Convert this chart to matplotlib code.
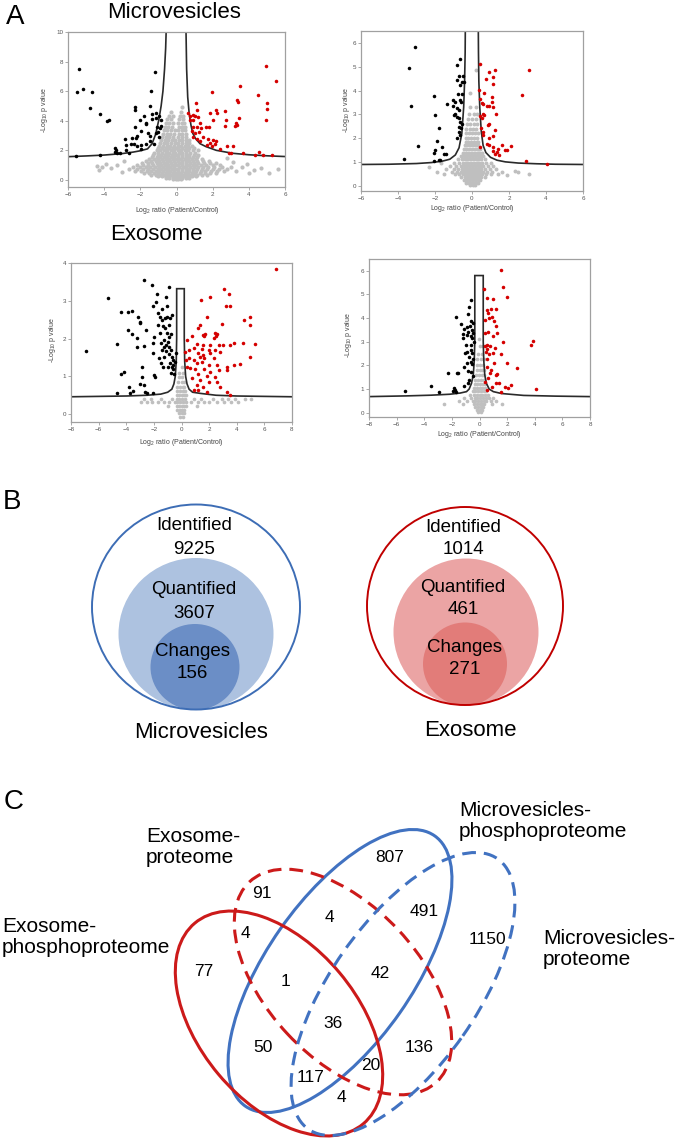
import matplotlib
matplotlib.use('Agg')
import matplotlib.pyplot as plt
from matplotlib.patches import Ellipse

plt.rcParams['font.family'] = ['Liberation Sans', 'DejaVu Sans']
plt.rcParams['mathtext.default'] = 'regular'

# ---------------- DATA ----------------
# Panel A, top-left (Microvesicles, proteome)
tl_black_x = [-5.41, -5.5, -5.17, -4.69, -4.8, -4.21, -3.87, -3.73, -3.41, -3.32, -3.27, -3.41, -3.1, -5.57,
              -2.86, -2.8, -2.62, -2.44, -2.31, -2.36, -2.31, -2.27, -2.21, -2.18, -2.03, -1.97, -1.94, -1.94,
              -1.81, -1.7, -1.66, -1.57, -1.66, -1.42, -1.48, -1.38, -1.44, -1.48, -1.33, -1.2, -1.14, -1.11,
              -1.07, -1.01, -0.96, -0.92, -0.96, -1.11, -0.87, -0.83, -1.25, -2.77, -2.49, -2.25, -4.24]
tl_black_y = [7.52, 5.91, 6.14, 5.91, 4.85, 4.45, 3.95, 4.02, 2.14, 2.03, 1.85, 1.92, 1.8, 1.63,
              2.75, 2.37, 1.81, 2.82, 3.61, 2.44, 4.74, 4.9, 2.98, 2.26, 4.06, 3.32, 2.37, 2.08,
              4.33, 3.79, 3.88, 3.16, 2.44, 5.98, 4.97, 4.11, 2.98, 2.6, 4.47, 7.27, 4.51, 4.18,
              3.61, 3.27, 4.29, 3.5, 2.93, 3.16, 4.06, 3.66, 2.44, 2.03, 2.44, 2.82, 1.69]
tl_red_x = [4.94, 5.5, 4.98, 5.02, 4.94, 4.52, 3.51, 3.32, 3.41, 3.47, 3.28, 3.36, 3.23, 2.68, 2.73, 2.68,
            1.94, 2.18, 2.25, 2.03, 1.85, 1.81, 1.07, 1.11, 1.01, 0.89, 0.77, 0.92, 1.2, 1.29, 1.11, 1.38,
            1.25, 1.01, 0.89, 0.83, 0.92, 1.11, 1.29, 1.48, 1.62, 1.75, 1.85, 2.03, 2.12, 2.21, 1.66, 1.94,
            2.4, 2.77, 3.14, 2.99, 2.92, 3.69, 4.33, 4.57, 4.8, 5.26, 0.65, 0.74]
tl_red_y = [7.67, 6.68, 5.19, 4.81, 4.06, 5.76, 6.37, 5.42, 5.26, 4.18, 3.84, 3.72, 3.66, 4.63, 4.02, 3.66,
            5.91, 4.74, 4.51, 4.06, 4.51, 3.61, 5.19, 4.74, 4.29, 4.4, 4.29, 4.06, 4.24, 3.88, 3.61, 3.5,
            3.21, 3.16, 3.61, 3.34, 2.89, 2.75, 2.6, 2.93, 3.61, 2.75, 2.48, 2.71, 2.44, 2.6, 2.37, 2.26,
            2.08, 2.26, 2.26, 1.85, 1.81, 1.81, 1.69, 1.87, 1.69, 1.69, 4.51, 4.02]
tl_gray_rows = [
    (0.03, [-0.2, -0.05, 0.1, 0.25]),
    (0.13, [-0.6, -0.4, -0.2, -0.05, 0.1, 0.3, 0.5, 0.7]),
    (0.24, [-1.0, -0.8, -0.6, -0.4, -0.2, -0.06, 0.08, 0.25, 0.45, 0.65, 0.85, 1.1]),
    (0.35, [-1.4, -1.15, -0.9, -0.7, -0.5, -0.3, -0.12, 0.1, 0.3, 0.5, 0.7, 0.9, 1.15, 1.4, 1.7]),
    (0.47, [-1.8, -1.5, -1.25, -1.0, -0.8, -0.6, -0.4, -0.2, -0.07, 0.08, 0.25, 0.45, 0.65, 0.85, 1.05, 1.3,
            1.55, 1.85, 2.2]),
    (0.6, [-2.3, -1.95, -1.65, -1.4, -1.15, -0.95, -0.75, -0.55, -0.35, -0.15, 0.1, 0.3, 0.5, 0.7, 0.9, 1.1,
           1.35, 1.6, 1.9, 2.25, 2.6]),
    (0.73, [-2.6, -2.2, -1.85, -1.55, -1.3, -1.05, -0.85, -0.65, -0.45, -0.25, -0.08, 0.1, 0.3, 0.5, 0.7, 0.9,
            1.15, 1.4, 1.7, 2.0, 2.35, 2.8]),
    (0.86, [-2.4, -2.0, -1.7, -1.45, -1.2, -0.95, -0.75, -0.55, -0.35, -0.15, 0.12, 0.35, 0.55, 0.75, 0.95,
            1.2, 1.45, 1.75, 2.1, 2.5, 3.0]),
    (0.99, [-2.2, -1.85, -1.55, -1.3, -1.05, -0.85, -0.65, -0.45, -0.25, -0.08, 0.1, 0.3, 0.5, 0.7, 0.9, 1.1,
            1.35, 1.65, 2.0, 2.4]),
    (1.12, [-1.9, -1.6, -1.35, -1.1, -0.9, -0.7, -0.5, -0.3, -0.1, 0.12, 0.32, 0.52, 0.72, 0.95, 1.2, 1.5,
            1.85, 2.2]),
    (1.26, [-1.7, -1.4, -1.15, -0.95, -0.75, -0.55, -0.35, -0.15, 0.1, 0.3, 0.5, 0.7, 0.9, 1.15, 1.45, 1.8]),
    (1.4, [-1.5, -1.25, -1.0, -0.8, -0.6, -0.4, -0.2, -0.06, 0.08, 0.25, 0.45, 0.65, 0.85, 1.1, 1.4]),
    (1.55, [-1.35, -1.1, -0.9, -0.7, -0.5, -0.3, -0.12, 0.1, 0.3, 0.5, 0.7, 0.9, 1.15]),
    (1.7, [-1.3, -1.05, -0.85, -0.65, -0.45, -0.25, -0.08, 0.1, 0.3, 0.5, 0.7, 0.95, 1.2]),
    (1.85, [-1.25, -1.0, -0.8, -0.6, -0.4, -0.2, -0.06, 0.12, 0.32, 0.52, 0.75, 1.0]),
    (2.0, [-1.1, -0.9, -0.7, -0.5, -0.3, -0.12, 0.08, 0.25, 0.45, 0.65, 0.9, 1.2]),
    (2.15, [-1.0, -0.8, -0.6, -0.4, -0.2, -0.06, 0.1, 0.3, 0.5, 0.7, 0.95]),
    (2.3, [-0.95, -0.75, -0.55, -0.35, -0.15, 0.08, 0.25, 0.45, 0.65, 0.85]),
    (2.5, [-0.9, -0.7, -0.5, -0.3, -0.1, 0.1, 0.3, 0.5, 0.7]),
    (2.7, [-0.85, -0.65, -0.45, -0.25, -0.08, 0.12, 0.32, 0.52, 0.7]),
    (2.9, [-0.8, -0.6, -0.4, -0.2, 0.1, 0.3, 0.5]),
    (3.1, [-0.75, -0.55, -0.35, -0.15, 0.12, 0.3, 0.5]),
    (3.35, [-0.7, -0.5, -0.3, -0.1, 0.1, 0.3, 0.45]),
    (3.6, [-0.65, -0.45, -0.25, 0.12, 0.3, 0.45]),
    (3.85, [-0.6, -0.4, -0.2, 0.1, 0.28, 0.42]),
    (4.1, [-0.5, -0.3, 0.15, 0.35]),
    (4.35, [-0.4, -0.2, 0.2, 0.35]),
    (4.6, [-0.3, 0.25]),
    (4.9, [0.3]),
]
tl_gray_out_x = [-4.4, -3.9, -3.3, -3.6, -4.3, -3.0, -2.9, -4.1, 3.3, 3.6, 4.0, 4.3, 4.7, 5.6, 5.1, 3.1, 2.8, 3.9]
tl_gray_out_y = [0.95, 1.05, 1.0, 0.8, 0.7, 0.55, 1.3, 0.85, 0.6, 0.9, 0.5, 0.7, 0.8, 0.75, 0.5, 1.2, 1.45, 1.05]
tl_curve_lx = [-6.0, -5.0, -4.0, -3.0, -2.4, -2.0, -1.6, -1.35, -1.15, -0.98, -0.85, -0.75, -0.66, -0.6, -0.56]
tl_curve_ly = [1.57, 1.62, 1.68, 1.78, 1.88, 1.97, 2.1, 2.45, 3.1, 4.05, 5.0, 6.0, 7.5, 8.9, 10.5]
tl_curve_rx = [0.52, 0.56, 0.62, 0.7, 0.8, 0.9, 1.05, 1.3, 1.63, 2.2, 3.1, 4.0, 5.0, 6.0]
tl_curve_ry = [10.5, 7.5, 5.6, 4.5, 3.7, 3.15, 2.8, 2.45, 2.25, 2.0, 1.8, 1.7, 1.63, 1.58]

# Panel A, top-right (Microvesicles, phosphoproteome)
tr_black_x = [-3.09, -3.43, -3.3, -3.66, -2.94, -2.03, -1.99, -1.8, -1.87, -1.99, -2.05, -1.63, -1.72, -2.03,
              -1.76, -1.54, -1.4, -1.36, -0.65, -0.83, -0.79, -0.68, -0.47, -0.52, -0.43, -0.65, -0.74, -0.56,
              -1.04, -0.92, -0.65, -0.61, -1.01, -0.83, -0.72, -0.9, -0.97, -0.83, -0.68, -0.65, -0.68, -0.61,
              -0.72, -0.65, -0.79, -0.56]
tr_black_y = [5.83, 4.94, 3.34, 1.15, 1.68, 3.76, 2.99, 2.42, 1.87, 1.5, 1.38, 1.64, 1.1, 1.05,
              1.08, 1.36, 1.36, 3.43, 5.31, 5.06, 4.46, 4.6, 4.63, 4.36, 4.36, 4.22, 3.87, 3.87,
              3.59, 3.51, 3.59, 3.52, 3.34, 3.29, 3.17, 3.03, 2.97, 2.9, 2.83, 2.69, 2.48, 2.41,
              2.27, 2.13, 1.99, 2.59]
tr_red_x = [0.43, 0.93, 1.24, 1.15, 1.15, 0.74, 3.09, 2.69, 0.39, 0.65, 1.06, 0.43, 0.52, 0.61, 1.06, 0.79,
            0.92, 1.15, 1.29, 0.57, 0.43, 0.52, 0.65, 0.93, 0.88, 1.24, 0.47, 0.61, 0.57, 1.15, 0.93, 0.43,
            0.93, 1.11, 1.26, 1.33, 1.42, 1.45, 1.6, 1.81, 1.87, 2.1, 1.11, 2.91, 4.06, 0.79]
tr_red_y = [5.13, 4.76, 4.88, 4.55, 4.29, 4.48, 4.87, 3.82, 4.01, 3.9, 3.73, 3.66, 3.48, 3.45, 3.52, 3.34,
            3.34, 3.31, 3.01, 3.03, 2.92, 2.83, 2.97, 2.59, 2.55, 2.36, 2.41, 2.27, 2.13, 2.08, 2.03, 1.64,
            1.71, 1.64, 1.36, 1.43, 1.57, 1.29, 1.71, 1.5, 1.5, 1.68, 1.47, 1.05, 0.94, 1.78]
tr_gray_rows = [
    (0.02, [-0.1, 0.05, 0.15]),
    (0.12, [-0.3, -0.15, 0.0, 0.15, 0.3]),
    (0.24, [-0.45, -0.3, -0.15, 0.0, 0.15, 0.3, 0.45]),
    (0.36, [-0.6, -0.4, -0.25, -0.1, 0.05, 0.2, 0.35, 0.5, 0.7]),
    (0.48, [-1.5, -0.9, -0.7, -0.5, -0.35, -0.2, -0.05, 0.1, 0.25, 0.4, 0.55, 0.75, 1.0, 1.4]),
    (0.6, [-1.9, -1.1, -0.8, -0.6, -0.45, -0.3, -0.15, 0.0, 0.15, 0.3, 0.45, 0.6, 0.8, 1.1, 1.6, 2.5]),
    (0.72, [-1.4, -1.0, -0.75, -0.55, -0.4, -0.25, -0.1, 0.05, 0.2, 0.35, 0.5, 0.7, 0.95, 1.3]),
    (0.85, [-1.2, -0.85, -0.6, -0.45, -0.3, -0.15, 0.0, 0.15, 0.3, 0.45, 0.6, 0.85, 1.15]),
    (0.98, [-1.0, -0.7, -0.5, -0.35, -0.2, -0.05, 0.1, 0.25, 0.4, 0.55, 0.75, 1.0]),
    (1.12, [-0.75, -0.55, -0.4, -0.25, -0.1, 0.05, 0.2, 0.35, 0.5, 0.7]),
    (1.26, [-0.6, -0.45, -0.3, -0.15, 0.0, 0.15, 0.3, 0.45, 0.6]),
    (1.4, [-0.5, -0.35, -0.2, -0.05, 0.1, 0.25, 0.4, 0.55]),
    (1.55, [-0.45, -0.3, -0.15, 0.0, 0.15, 0.3, 0.45]),
    (1.7, [-0.4, -0.25, -0.1, 0.05, 0.2, 0.35]),
    (1.85, [-0.35, -0.2, -0.05, 0.1, 0.25, 0.35]),
    (2.0, [-0.35, -0.2, -0.05, 0.1, 0.25]),
    (2.2, [-0.3, -0.15, 0.0, 0.15, 0.3]),
    (2.4, [-0.3, -0.1, 0.05, 0.2]),
    (2.6, [-0.25, -0.1, 0.1, 0.25]),
    (2.8, [-0.2, 0.0, 0.2]),
    (3.0, [-0.15, 0.1, 0.25]),
    (3.3, [-0.1, 0.2]),
    (3.9, [-0.1]),
    (4.85, [0.2]),
]
tr_gray_out_x = [3.1, 2.3, 1.9, -2.3, -1.7]
tr_gray_out_y = [0.5, 0.62, 0.45, 0.8, 0.95]
tr_curve_lx = [-6.0, -4.5, -3.0, -2.2, -1.6, -1.2, -0.9, -0.7, -0.55, -0.45, -0.4, -0.37, -0.36]
tr_curve_ly = [0.9, 0.91, 0.94, 0.98, 1.04, 1.12, 1.3, 1.6, 2.2, 3.3, 4.4, 5.6, 6.7]
tr_curve_rx = [0.34, 0.35, 0.37, 0.42, 0.5, 0.6, 0.75, 1.0, 1.35, 1.8, 2.5, 3.5, 4.5, 6.0]
tr_curve_ry = [6.7, 5.6, 4.4, 3.3, 2.3, 1.7, 1.4, 1.2, 1.08, 1.01, 0.96, 0.93, 0.91, 0.9]

# Panel A, bottom-left (Exosome, proteome)
el_black_x = [-6.91, -5.29, -4.69, -4.69, -4.4, -4.37, -4.15, -3.89, -3.6, -3.84, -3.6, -3.77, -3.72, -3.53,
              -3.24, -3.24, -3.16, -3.04, -2.99, -2.87, -2.83, -2.99, -2.75, -2.63, -2.51, -2.75, -2.73, -2.56,
              -2.15, -2.08, -2.03, -1.74, -1.84, -1.98, -2.08, -2.03, -1.96, -1.91, -1.67, -1.67, -1.55, -1.43,
              -1.59, -1.5, -1.38, -1.3, -1.64, -1.5, -1.35, -1.18, -1.06, -0.94, -1.11, -1.06, -0.94, -0.82,
              -0.7, -1.18, -1.06, -0.94, -1.26, -1.14, -1.01, -0.87, -0.77, -1.11, -0.94, -0.7, -0.63, -0.82,
              -0.99, -0.7, -0.58, -0.77, -0.53, -0.63, -0.46, -0.41, -1.43, -1.35, -0.75, -1.3]
el_black_y = [1.68, 3.08, 1.86, 0.55, 2.69, 1.06, 1.12, 2.71, 2.72, 2.23, 2.12, 0.73, 0.57, 0.62,
              2.01, 1.79, 2.58, 2.45, 2.41, 1.26, 0.99, 0.81, 0.77, 0.59, 0.55, 3.54, 1.81, 2.23,
              3.42, 2.85, 0.57, 3.19, 2.98, 2.05, 1.89, 1.61, 1.04, 0.99, 2.67, 2.36, 2.58, 2.5,
              2.14, 1.88, 1.7, 1.52, 1.48, 1.36, 1.26, 2.54, 2.58, 3.36, 3.1, 2.85, 2.36, 2.54,
              2.62, 2.27, 2.14, 2.05, 1.96, 1.83, 1.92, 1.79, 1.7, 1.68, 1.59, 1.52, 1.43, 1.36,
              1.26, 1.26, 1.19, 1.1, 1.06, 1.3, 1.39, 1.61, 2.78, 2.33, 2.12, 1.79]
el_red_x = [6.84, 3.09, 3.41, 2.08, 1.4, 3.24, 3.48, 1.84, 4.98, 4.49, 4.98, 1.35, 1.18, 1.59, 1.64, 1.71,
            2.39, 2.51, 2.56, 2.95, 2.32, 0.39, 0.75, 1.11, 1.59, 2.08, 2.68, 3.04, 3.48, 3.77, 4.42, 5.29,
            0.56, 0.87, 1.47, 1.96, 2.44, 1.23, 1.59, 2.08, 2.8, 0.51, 0.87, 1.35, 1.64, 2.32, 1.11, 1.47,
            1.96, 2.56, 3.29, 3.77, 4.2, 4.93, 0.43, 0.63, 0.99, 1.64, 2.08, 2.68, 3.29, 1.23, 1.84, 2.44,
            0.75, 1.35, 1.96, 2.56, 1.11, 1.59, 0.87, 1.23, 1.84, 3.29, 2.8, 3.53, 0.27, 0.34]
el_red_y = [3.84, 3.31, 3.18, 3.1, 3.03, 2.85, 2.85, 2.58, 2.58, 2.48, 2.36, 2.36, 2.27, 2.1, 2.07, 2.12,
            2.14, 2.07, 2.12, 2.39, 2.01, 1.95, 2.07, 1.86, 1.83, 1.83, 1.83, 1.83, 1.83, 1.89, 1.89, 1.85,
            1.7, 1.74, 1.72, 1.7, 1.7, 1.61, 1.57, 1.61, 1.65, 1.48, 1.43, 1.52, 1.48, 1.48, 1.35, 1.39,
            1.3, 1.3, 1.26, 1.3, 1.33, 1.52, 1.26, 1.21, 1.19, 1.19, 1.12, 1.17, 1.17, 1.05, 1.01, 0.99,
            0.95, 0.9, 0.86, 0.86, 0.77, 0.73, 0.64, 0.64, 0.59, 0.59, 0.73, 0.5, 1.65, 1.43]
el_gray_rows = [
    (-0.08, [-0.1, 0.1]),
    (0.02, [-0.2, 0.0, 0.15]),
    (0.12, [-0.3, -0.1, 0.05, 0.2]),
    (0.22, [-1.0, -0.35, -0.15, 0.0, 0.15, 0.3, 1.1]),
    (0.32, [-2.9, -2.5, -2.1, -1.7, -1.3, -0.9, -0.5, -0.3, -0.1, 0.1, 0.3, 0.7, 1.2, 1.6, 2.0, 2.6, 3.1, 3.6, 4.1]),
    (0.4, [-2.7, -2.2, -1.5, -0.7, -0.35, -0.15, 0.05, 0.25, 0.9, 1.4, 2.3, 2.9, 3.4, 3.9, 4.6, 5.0]),
    (0.5, [-0.35, -0.2, 0.0, 0.2, 0.35]),
    (0.6, [-0.3, -0.1, 0.1, 0.25]),
    (0.72, [-0.3, -0.1, 0.1, 0.2]),
    (0.85, [-0.25, 0.0, 0.15]),
    (0.98, [-0.2, 0.05]),
    (1.1, [-0.15, 0.1]),
    (1.25, [0.0]),
]
el_curve_x = [-8, -6, -4, -2.5, -1.5, -1.0, -0.7, -0.55, -0.45, -0.38, -0.35, -0.35, 0.2, 0.2, 0.23, 0.3, 0.4,
              0.55, 0.8, 1.35, 2.5, 4, 6, 8]
el_curve_y = [0.46, 0.47, 0.48, 0.5, 0.53, 0.58, 0.66, 0.8, 1.0, 1.4, 2.0, 3.32, 3.32, 2.0, 1.4, 1.0, 0.8,
              0.66, 0.58, 0.55, 0.5, 0.48, 0.47, 0.46]

# Panel A, bottom-right (Exosome, phosphoproteome)
er_black_x = [-5.39, -3.53, -2.95, -2.25, -1.67, -1.62, -1.55, -1.84, -1.91, -1.71, -1.79, -1.35, -1.11, -1.18,
              -0.94, -0.94, -1.23, -0.82, -0.75, -0.65, -0.58, -0.7, -0.53, -0.82, -0.65, -0.46, -0.51, -0.41,
              -0.99, -1.06, -0.89, -0.58, -0.75, -0.51, -0.46, -0.65, -0.87, -0.51, -1.14, -0.82, -0.58, -0.46,
              -0.75, -0.82, -1.14, -0.58, -0.46]
er_black_y = [0.92, 1.13, 0.89, 1.69, 4.04, 1.67, 1.69, 1.06, 0.92, 0.86, 0.96, 3.74, 3.53, 3.33,
              3.64, 3.29, 3.15, 4.18, 4.46, 4.77, 3.86, 3.67, 3.5, 3.43, 3.25, 3.36, 3.15, 3.01,
              2.87, 2.51, 2.58, 2.66, 2.37, 2.51, 2.26, 2.16, 2.09, 2.06, 1.95, 1.78, 1.74, 1.55,
              1.38, 1.24, 1.13, 2.87, 3.79]
er_red_x = [1.57, 1.71, 0.31, 1.96, 0.56, 0.99, 0.82, 1.23, 0.51, 0.63, 0.7, 0.39, 0.87, 1.04, 1.23, 0.63,
            0.39, 0.99, 1.28, 1.67, 3.7, 3.84, 0.51, 0.43, 0.75, 0.56, 1.11, 0.46, 0.99, 0.7, 1.57, 0.56,
            1.04, 1.96, 2.75, 0.51, 0.8, 0.75, 1.18, 1.3, 0.63, 0.43, 1.18, 1.38, 1.55, 1.84, 2.03, 2.27,
            4.08, 0.87, 0.56]
er_red_y = [6.05, 5.3, 5.23, 4.89, 4.84, 4.8, 4.38, 4.39, 4.35, 4.21, 4.0, 3.9, 4.04, 3.86, 3.67, 3.43,
            3.36, 3.25, 3.36, 2.97, 2.87, 3.04, 2.87, 2.8, 2.82, 2.68, 2.73, 2.58, 2.51, 2.49, 2.47, 2.26,
            2.12, 2.09, 1.91, 1.95, 1.81, 1.69, 1.6, 1.64, 1.45, 1.31, 1.24, 1.24, 0.89, 1.1, 1.03, 1.17,
            0.99, 1.07, 0.96]
er_gray_rows = [
    (0.02, [-0.1, 0.1]),
    (0.12, [-0.2, 0.0, 0.15]),
    (0.25, [-0.3, -0.1, 0.1, 0.25]),
    (0.38, [-2.6, -1.2, -0.4, -0.2, 0.0, 0.2, 0.35, 0.9, 1.6]),
    (0.5, [-1.5, -0.9, -0.5, -0.3, -0.1, 0.1, 0.3, 0.5, 0.8, 1.2]),
    (0.62, [-1.1, -0.6, -0.35, -0.15, 0.05, 0.25, 0.45, 0.7, 1.0]),
    (0.75, [-0.7, -0.4, -0.2, 0.0, 0.2, 0.4, 0.6]),
    (0.9, [-0.5, -0.3, -0.1, 0.1, 0.3, 0.5]),
    (1.05, [-0.4, -0.2, 0.0, 0.2, 0.4]),
    (1.2, [-0.35, -0.15, 0.05, 0.25, 0.4]),
    (1.4, [-0.3, -0.1, 0.1, 0.3]),
    (1.6, [-0.25, -0.05, 0.15, 0.3]),
    (1.8, [-0.2, 0.0, 0.2, 0.35]),
    (2.0, [-0.2, 0.05, 0.25]),
    (2.25, [-0.15, 0.1, 0.3]),
    (2.5, [-0.1, 0.2]),
    (2.8, [0.0, 0.25]),
    (3.1, [-0.05]),
]
er_curve_x = [-8, -5.3, -3.5, -2.15, -1.4, -0.94, -0.75, -0.58, -0.45, -0.38, -0.34, -0.34, 0.27, 0.27, 0.31,
              0.38, 0.5, 0.7, 1.0, 1.6, 3.2, 5.5, 8]
er_curve_y = [0.68, 0.71, 0.74, 0.78, 0.83, 0.89, 1.0, 1.24, 1.6, 2.2, 3.0, 5.8, 5.8, 3.0, 2.2,
              1.6, 1.24, 1.0, 0.89, 0.81, 0.73, 0.7, 0.68]

# Panel B
b_levels = ['Identified', 'Quantified', 'Changes']
mv_counts = [9225, 3607, 156]
exo_counts = [1014, 461, 271]

# Panel C (4-set Venn)
venn_set_names = ['Microvesicles-\nphosphoproteome', 'Exosome-\nproteome',
                  'Exosome-\nphosphoproteome', 'Microvesicles-\nproteome']
venn_counts = [807, 91, 491, 4, 4, 1150, 77, 42, 1, 36, 50, 136, 20, 117, 4]

# ---------------- LAYOUT ----------------
W, H = 677, 1139
fig = plt.figure(figsize=(W / 100, H / 100), dpi=100)


def add_ax(l, t, r, b):
    return fig.add_axes([l / W, 1 - b / H, (r - l) / W, (b - t) / H])


GRAY = '#bfbfbf'
RED_PT = '#d40000'
FRAME = '#a0a0a0'


def expand(rows):
    xs, ys = [], []
    for y, row in rows:
        for x in row:
            xs.append(x)
            ys.append(y)
    return xs, ys


def volcano(box, xlim, ylim, xticks, yticks, gray, gsize, curves, black, red):
    ax = add_ax(*box)
    ax.scatter(gray[0], gray[1], s=gsize, c=GRAY, lw=0, zorder=1)
    for cx, cy in curves:
        ax.plot(cx, cy, color='#2a2a2a', lw=1.2, zorder=2, solid_joinstyle='miter')
    ax.scatter(black[0], black[1], s=6.5, c='black', lw=0, zorder=3)
    ax.scatter(red[0], red[1], s=6.5, c=RED_PT, lw=0, zorder=3)
    ax.set_xlim(*xlim)
    ax.set_ylim(*ylim)
    ax.set_xticks(list(xticks))
    ax.set_yticks(list(yticks))
    ax.tick_params(direction='out', length=2, width=0.5, color='#888888', pad=1.5,
                   labelsize=4.5, labelcolor='#555555')
    for s in ax.spines.values():
        s.set_color(FRAME)
        s.set_linewidth(0.9)
    return ax


gx, gy = expand(tl_gray_rows)
volcano((68, 32, 285, 187.3), (-6, 6), (-0.5, 10), range(-6, 7, 2), range(0, 11, 2),
        (gx + tl_gray_out_x, gy + tl_gray_out_y), 9,
        [(tl_curve_lx, tl_curve_ly), (tl_curve_rx, tl_curve_ry)],
        (tl_black_x, tl_black_y), (tl_red_x, tl_red_y))

gx, gy = expand(tr_gray_rows)
volcano((361, 31, 583, 190.7), (-6, 6), (-0.2, 6.5), range(-6, 7, 2), range(0, 7),
        (gx + tr_gray_out_x, gy + tr_gray_out_y), 8,
        [(tr_curve_lx, tr_curve_ly), (tr_curve_rx, tr_curve_ry)],
        (tr_black_x, tr_black_y), (tr_red_x, tr_red_y))

gx, gy = expand(el_gray_rows)
volcano((71, 263, 292, 421.7), (-8, 8), (-0.2, 4), range(-8, 9, 2), range(0, 5),
        (gx, gy), 7, [(el_curve_x, el_curve_y)],
        (el_black_x, el_black_y), (el_red_x, el_red_y))

gx, gy = expand(er_gray_rows)
volcano((369, 259, 590, 416.7), (-8, 8), (-0.17, 6.5), range(-8, 9, 2), range(0, 7),
        (gx, gy), 7, [(er_curve_x, er_curve_y)],
        (er_black_x, er_black_y), (er_red_x, er_red_y))

# overlay in pixel coordinates (y up)
ov = fig.add_axes([0, 0, 1, 1])
ov.set_xlim(0, W)
ov.set_ylim(0, H)
ov.axis('off')
ov.patch.set_alpha(0)


def Y(y):
    return H - y


def txt(x, y, s, size, **kw):
    kw.setdefault('ha', 'center')
    kw.setdefault('va', 'center')
    ov.text(x, Y(y), s, fontsize=size, **kw)


# panel letters & titles
txt(15, 17, 'A', 20)
txt(12, 502, 'B', 20)
txt(14, 802, 'C', 20)
txt(174, 13, 'Microvesicles', 16)
txt(156, 235, 'Exosome', 16)

# volcano axis labels
ylab = r'-Log$_{10}$ p value'
xlab = r'Log$_2$ ratio (Patient/Control)'
for (x, y) in [(45, 110), (346, 110), (52, 340), (348, 335)]:
    txt(x, y, ylab, 5, rotation=90, color='#444444')
for (x, y) in [(177, 210), (472, 209), (181, 443), (479, 434)]:
    txt(x, y, xlab, 5, color='#444444')


# ---------------- Panel B ----------------
def draw_nested(outer, mid, inner, edge, fill1, fill2, counts, text_pos, label, label_xy):
    ov.add_patch(Ellipse((mid[0], Y(mid[1])), mid[2], mid[3], fc=fill1, ec='none', zorder=1))
    ov.add_patch(Ellipse((inner[0], Y(inner[1])), inner[2], inner[3], fc=fill2, ec='none', zorder=2))
    ov.add_patch(Ellipse((outer[0], Y(outer[1])), outer[2], outer[3], fc='none', ec=edge, lw=1.4, zorder=3))
    for name, val, (x, y1, y2) in zip(b_levels, counts, text_pos):
        txt(x, y1, name, 13.5, zorder=4)
        txt(x, y2, str(val), 13.5, zorder=4)
    txt(label_xy[0], label_xy[1], label, 16)


draw_nested((196, 607, 208, 205), (196, 634, 155, 152), (195, 667, 89, 86),
            '#3d6db5', '#adc2e0', '#6b8ec6', mv_counts,
            [(194, 526, 549), (194, 590, 613), (192, 652, 674)],
            'Microvesicles', (201, 732))
draw_nested((465, 606, 196, 198), (466, 632, 145, 147), (465, 664, 84, 83),
            '#c00000', '#eba4a4', '#e27c79', exo_counts,
            [(463, 527, 550), (463, 588, 610), (465, 647, 670)],
            'Exosome', (470, 730))

# ---------------- Panel C ----------------
BLUE = '#4172c1'
RED = '#cc1a1a'
# (cx, cy, width, height, angle, colour, linestyle)
venn_shapes = [
    (340, 971, 330, 146, 55, BLUE, 'solid'),
    (343, 982, 274, 152, -47, RED, (0, (4.5, 2.6))),
    (279, 1023.5, 262, 158, -50, RED, 'solid'),
    (403, 994, 330, 146, 55, BLUE, (0, (4.5, 2.6))),
]
for cx, cy, w, h, ang, col, ls in venn_shapes:
    ov.add_patch(Ellipse((cx, Y(cy)), w, h, angle=ang, fc='none', ec=col, lw=2.2, ls=ls, zorder=3))

venn_label_pos = [(459, 821), (146, 847), (2, 937), (543, 949)]
for name, (x, y) in zip(venn_set_names, venn_label_pos):
    txt(x, y, name, 15, ha='left', linespacing=1.15)

venn_num_pos = [(390, 858), (262, 893), (424, 912), (329, 918), (245, 934), (487, 940),
                (204, 971), (380, 974), (285, 982), (333, 1023), (263, 1048), (419, 1047),
                (371, 1065), (311, 1077), (341, 1098)]
for val, (x, y) in zip(venn_counts, venn_num_pos):
    txt(x, y, str(val), 12.5, zorder=4)

fig.savefig('out.png', dpi=100)
